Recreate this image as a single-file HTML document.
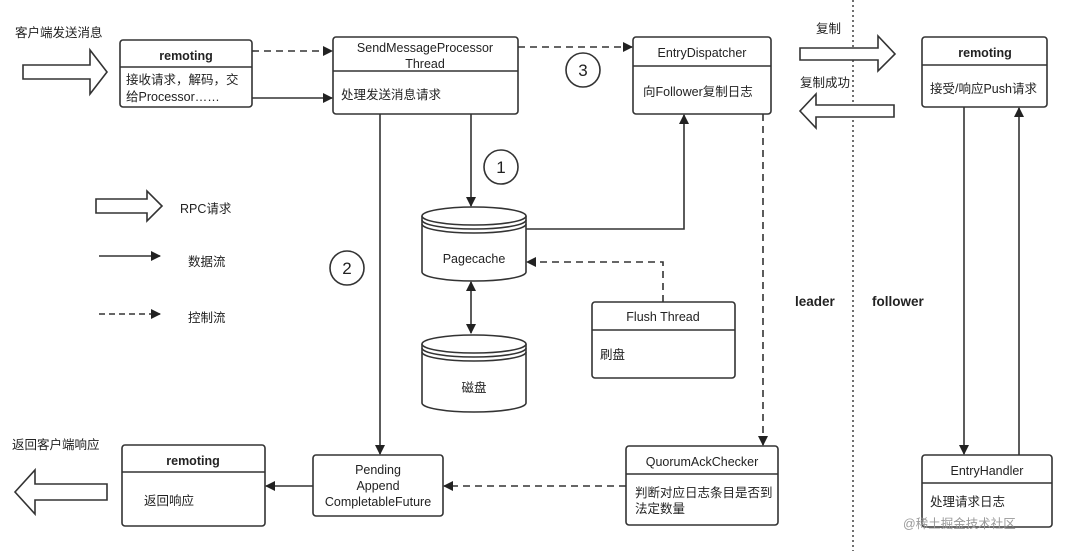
<!DOCTYPE html>
<html><head><meta charset="utf-8"><style>
html,body{margin:0;padding:0;background:#fff}
svg{display:block}
text{font-family:"Liberation Sans","Noto Sans CJK SC",sans-serif;fill:#222}
</style></head><body>
<svg width="1080" height="551" viewBox="0 0 1080 551" xmlns="http://www.w3.org/2000/svg">
<defs>
<marker id="a" markerWidth="10" markerHeight="10" refX="9" refY="5" orient="auto" markerUnits="userSpaceOnUse"><path d="M0,0 L10,5 L0,10 z" fill="#222"/></marker>
<marker id="as" markerWidth="10" markerHeight="10" refX="1" refY="5" orient="auto" markerUnits="userSpaceOnUse"><path d="M10,0 L0,5 L10,10 z" fill="#222"/></marker>
</defs>
<g stroke="#333" stroke-width="1.6" fill="none">
<!-- dotted divider -->
<line x1="853" y1="0" x2="853" y2="551" stroke-dasharray="2,3" stroke-width="1.4"/>
<!-- big hollow arrows -->
<path d="M23,65 H90 V50 L107,72 L90,94 V79 H23 Z" fill="#fff"/>
<path d="M96,199 H147 V191 L162,206 L147,221 V213 H96 Z" fill="#fff"/>
<path d="M800,48 H878 V36 L895,54 L878,71 V60 H800 Z" fill="#fff"/>
<path d="M894,105 H816 V94 L800,111 L816,128 V117 H894 Z" fill="#fff"/>
<path d="M107,484 H35 V470 L15,492 L35,514 V500 H107 Z" fill="#fff"/>
<!-- boxes -->
<rect x="120" y="40" width="132" height="67" rx="3"/><line x1="120" y1="67" x2="252" y2="67"/>
<rect x="333" y="37" width="185" height="77" rx="3"/><line x1="333" y1="71" x2="518" y2="71"/>
<rect x="633" y="37" width="138" height="77" rx="3"/><line x1="633" y1="66" x2="771" y2="66"/>
<rect x="922" y="37" width="125" height="70" rx="3"/><line x1="922" y1="65" x2="1047" y2="65"/>
<rect x="592" y="302" width="143" height="76" rx="3"/><line x1="592" y1="330" x2="735" y2="330"/>
<rect x="626" y="446" width="152" height="79" rx="3"/><line x1="626" y1="474" x2="778" y2="474"/>
<rect x="922" y="455" width="130" height="72" rx="3"/><line x1="922" y1="483" x2="1052" y2="483"/>
<rect x="122" y="445" width="143" height="81" rx="3"/><line x1="122" y1="472" x2="265" y2="472"/>
<rect x="313" y="455" width="130" height="61" rx="3"/>
<!-- cylinders -->
<path d="M422,216 V272 A52,9 0 0 0 526,272 V216" fill="#fff"/>
<ellipse cx="474" cy="216" rx="52" ry="9" fill="#fff"/>
<path d="M422,220 A52,9 0 0 0 526,220 M422,224 A52,9 0 0 0 526,224"/>
<path d="M422,344 V403 A52,9 0 0 0 526,403 V344" fill="#fff"/>
<ellipse cx="474" cy="344" rx="52" ry="9" fill="#fff"/>
<path d="M422,348 A52,9 0 0 0 526,348 M422,352 A52,9 0 0 0 526,352"/>
<!-- circles -->
<circle cx="501" cy="167" r="17"/>
<circle cx="347" cy="268" r="17"/>
<circle cx="583" cy="70" r="17"/>
<!-- connectors -->
<line x1="252" y1="51" x2="332" y2="51" stroke-dasharray="7,5" marker-end="url(#a)"/>
<line x1="252" y1="98" x2="332" y2="98" marker-end="url(#a)"/>
<line x1="518" y1="47" x2="632" y2="47" stroke-dasharray="7,5" marker-end="url(#a)"/>
<line x1="471" y1="114" x2="471" y2="206" marker-end="url(#a)"/>
<line x1="380" y1="114" x2="380" y2="454" marker-end="url(#a)"/>
<polyline points="526,229 684,229 684,115" marker-end="url(#a)"/>
<polyline points="663,302 663,262 527,262" stroke-dasharray="7,5" marker-end="url(#a)"/>
<line x1="471" y1="282" x2="471" y2="333" marker-start="url(#as)" marker-end="url(#a)"/>
<line x1="763" y1="114" x2="763" y2="445" stroke-dasharray="7,5" marker-end="url(#a)"/>
<line x1="626" y1="486" x2="444" y2="486" stroke-dasharray="7,5" marker-end="url(#a)"/>
<line x1="313" y1="486" x2="266" y2="486" marker-end="url(#a)"/>
<line x1="964" y1="107" x2="964" y2="454" marker-end="url(#a)"/>
<line x1="1019" y1="455" x2="1019" y2="108" marker-end="url(#a)"/>
<line x1="99" y1="256" x2="160" y2="256" marker-end="url(#a)"/>
<line x1="99" y1="314" x2="160" y2="314" stroke-dasharray="6,4" marker-end="url(#a)"/>
</g>
<g font-size="12.5">
<text x="15" y="37">客户端发送消息</text>
<text x="12" y="449">返回客户端响应</text>
<text x="186" y="60" text-anchor="middle" font-weight="bold">remoting</text>
<text x="126" y="84">接收请求，解码，交</text>
<text x="126" y="101">给Processor……</text>
<text x="425" y="52" text-anchor="middle">SendMessageProcessor</text>
<text x="425" y="68" text-anchor="middle">Thread</text>
<text x="341" y="99">处理发送消息请求</text>
<text x="702" y="57" text-anchor="middle">EntryDispatcher</text>
<text x="643" y="96">向Follower复制日志</text>
<text x="985" y="57" text-anchor="middle" font-weight="bold">remoting</text>
<text x="930" y="93">接受/响应Push请求</text>
<text x="816" y="33">复制</text>
<text x="800" y="87">复制成功</text>
<text x="474" y="263" text-anchor="middle">Pagecache</text>
<text x="474" y="392" text-anchor="middle">磁盘</text>
<text x="663" y="321" text-anchor="middle">Flush Thread</text>
<text x="600" y="359">刷盘</text>
<text x="702" y="466" text-anchor="middle">QuorumAckChecker</text>
<text x="635" y="497">判断对应日志条目是否到</text>
<text x="635" y="513">法定数量</text>
<text x="987" y="475" text-anchor="middle">EntryHandler</text>
<text x="930" y="506">处理请求日志</text>
<text x="903" y="528" fill="#888" style="fill:#999">@稀土掘金技术社区</text>
<text x="193" y="465" text-anchor="middle" font-weight="bold">remoting</text>
<text x="144" y="505">返回响应</text>
<text x="378" y="474" text-anchor="middle">Pending</text>
<text x="378" y="490" text-anchor="middle">Append</text>
<text x="378" y="506" text-anchor="middle">CompletableFuture</text>
<text x="180" y="213">RPC请求</text>
<text x="188" y="266">数据流</text>
<text x="188" y="322">控制流</text>
<text x="795" y="306" font-size="13.5" font-weight="bold">leader</text>
<text x="872" y="306" font-size="13.5" font-weight="bold">follower</text>
</g>
<g font-size="17" text-anchor="middle">
<text x="501" y="173">1</text><text x="347" y="274">2</text><text x="583" y="76">3</text>
</g>
</svg>
</body></html>
